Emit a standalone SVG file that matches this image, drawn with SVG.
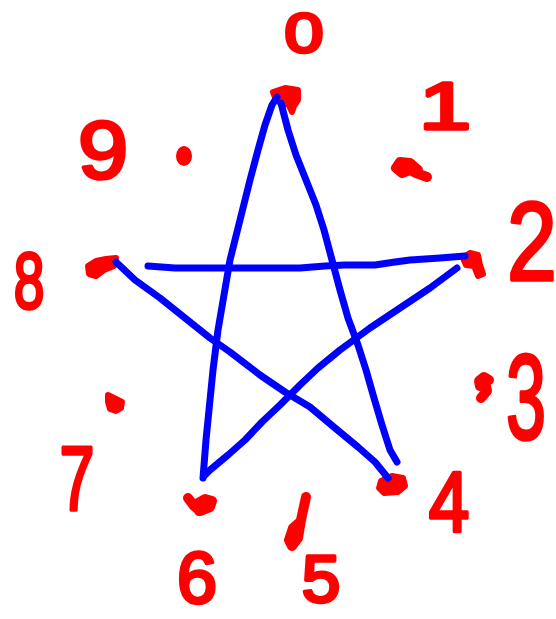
<svg xmlns="http://www.w3.org/2000/svg" width="556" height="619" viewBox="0 0 556 619">
<style>
.star{fill:none;stroke:#0000FF;stroke-width:7;stroke-linecap:round;stroke-linejoin:round}
.mk{fill:none;stroke:#FF0000;stroke-width:10;stroke-linecap:round;stroke-linejoin:round}
.blob{fill:#FF0000;stroke:#FF0000;stroke-width:6;stroke-linejoin:round}
.dg{font-family:"Liberation Sans",Arial,sans-serif;font-weight:normal;fill:#FF0000;stroke:#FF0000;stroke-width:3.5;stroke-linejoin:round;text-anchor:middle}
</style>
<rect width="556" height="619" fill="#FFFFFF"/>
<g id="marks">
<path class="blob" d="M273,92 L285,88 L298,90 L298,100 L294,106 L292,112 L288,104 L282,104 L276,100 Z"/>
<path class="blob" d="M88,266 L96,261 L106,259 L116,258 L114,266 L104,270 L96,276 L89,274 Z"/>
<path class="blob" d="M463,258 L470,253 L478,255 L480,265 L483,274 L478,276 L474,266 L466,265 Z"/>
<path class="blob" d="M381,481 L392,476 L403,478 L405,486 L398,492 L384,493 L379,488 Z"/>
<ellipse cx="184" cy="156" rx="8" ry="10" fill="#FF0000"/>
<path class="mk" d="M418,170 L410,163 L400,162 L396,168 L402,173 L410,170 L416,173 L427,177"/>
<path class="mk" d="M489,380 L484,377 L479,381 L480,386 L486,386 L487,391 L481,398"/>
<path class="blob" d="M108,395 L112,397 L118,400 L122,402 L121,408 L116,411 L110,409 L108,402 Z"/>
<path class="mk" d="M306,497 L301,520 L298,538 L292,546 L289,540 L293,528 L300,522"/>
<path class="mk" d="M188,498 L194,506 L200,511 L210,507 L212,501 L205,499 L198,503 L199,511"/>
</g>
<g id="star">
<path class="star" d="M203,478 L206,440 L210,400 L213,370 L218,330 L224,295 L230,260 L240,220 L250,180 L258,150 L265,125 L272,105 L277,97"/>
<path class="star" d="M281,103 L288,130 L296,155 L306,180 L316,205 L324,230 L332,260 L340,290 L348,318 L358,345 L366,370 L374,398 L382,425 L390,450 L397,462"/>
<path class="star" d="M148,266 L175,268 L210,268 L250,268 L300,268 L325,266 L345,265 L375,265 L395,262 L410,260 L440,258 L465,256"/>
<path class="star" d="M457,268 L430,288 L400,308 L370,328 L340,350 L318,368 L300,385 L280,405 L262,422 L245,440 L228,455 L210,470 L204,476"/>
<path class="star" d="M116,262 L135,280 L160,298 L185,318 L210,338 L230,352 L260,375 L285,392 L310,407 L335,428 L358,447 L375,462 L388,478"/>
</g>
<g id="digits">
<text class="dg" font-size="56" transform="translate(304,52) scale(1.25,1)">0</text>
<text class="dg" font-size="67" transform="translate(445,129) scale(1.4,1)">1</text>
<text class="dg" font-size="112" transform="translate(532,280) scale(0.8,1)">2</text>
<text class="dg" font-size="120" transform="translate(526,439) scale(0.6,1)">3</text>
<text class="dg" font-size="86" transform="translate(449,531) scale(0.85,1)">4</text>
<text class="dg" font-size="66" transform="translate(321,602) scale(1.05,1)">5</text>
<text class="dg" font-size="72" transform="translate(197,603)">6</text>
<text class="dg" font-size="90" transform="translate(77,510) scale(0.7,1)">7</text>
<text class="dg" font-size="79" transform="translate(29,308) scale(0.7,1)">8</text>
<text class="dg" font-size="82" transform="translate(103,178) scale(1.1,1)">9</text>
</g>
</svg>
